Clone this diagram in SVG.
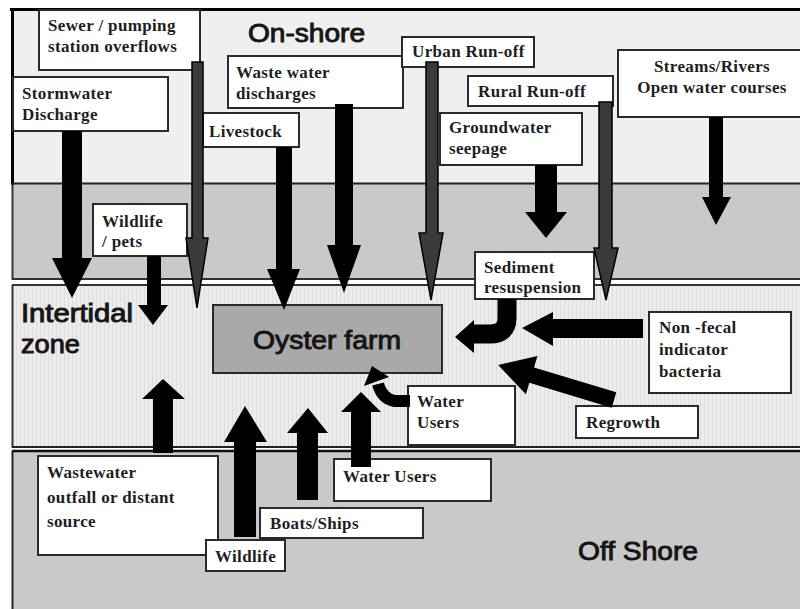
<svg xmlns="http://www.w3.org/2000/svg" width="800" height="609" viewBox="0 0 800 609">
<defs>
<pattern id="stripes" width="4" height="10" patternUnits="userSpaceOnUse">
<rect width="4" height="10" fill="#ececec"/>
<rect x="0" width="1" height="10" fill="#dedede"/>
</pattern>
<style>
.box{fill:#fff;stroke:#2a2a2a;stroke-width:2}
.lbl{font-family:"Liberation Serif","Times New Roman",serif;font-weight:bold;font-size:17px;fill:#1e1e1e;letter-spacing:0.35px}
.zone{font-family:"Liberation Sans",Arial,sans-serif;font-size:25px;fill:#151515;stroke:#151515;stroke-width:0.9}
.blk{fill:#000}
.gry{fill:#3a3a3a;stroke:#000;stroke-width:1.5;stroke-linejoin:miter}
.crv{fill:none;stroke:#000}
</style>
</defs>

<!-- background bands -->
<rect width="800" height="609" fill="#fff"/>
<g id="bands">
<rect x="12" y="9" width="788" height="175" fill="#efefef"/>
<rect x="12" y="184" width="788" height="95" fill="#c9c9c9"/>
<rect x="12" y="285" width="788" height="162" fill="url(#stripes)"/>
<rect x="12" y="451" width="788" height="158" fill="#c9c9c9"/>
<line x1="10" y1="9.5" x2="800" y2="9.5" stroke="#000" stroke-width="3"/>
<line x1="12.5" y1="8" x2="12.5" y2="185" stroke="#000" stroke-width="3"/>
<line x1="12" y1="183.5" x2="800" y2="183.5" stroke="#222" stroke-width="2"/>
<line x1="12.5" y1="184" x2="12.5" y2="280" stroke="#333" stroke-width="2"/>
<line x1="12" y1="279" x2="800" y2="279" stroke="#333" stroke-width="2"/>
<line x1="12" y1="285" x2="800" y2="285" stroke="#333" stroke-width="2"/>
<line x1="12.5" y1="285" x2="12.5" y2="448" stroke="#333" stroke-width="2"/>
<line x1="12" y1="447" x2="800" y2="447" stroke="#222" stroke-width="2"/>
<line x1="12" y1="451" x2="800" y2="451" stroke="#111" stroke-width="2.5"/>
<line x1="12.5" y1="451" x2="12.5" y2="609" stroke="#222" stroke-width="2"/>
</g>

<text class="zone" x="248" y="42" font-size="27" textLength="117" lengthAdjust="spacingAndGlyphs">On-shore</text>
<text class="zone" x="21" y="322" textLength="112" lengthAdjust="spacingAndGlyphs">Intertidal</text>
<text class="zone" x="21" y="353" textLength="59" lengthAdjust="spacingAndGlyphs">zone</text>
<text class="zone" x="578" y="560" textLength="120" lengthAdjust="spacingAndGlyphs">Off Shore</text>

<!-- nodes -->
<g id="oyster-farm">
<rect x="213" y="305" width="229" height="68" fill="#a9a9a9" stroke="#2a2a2a" stroke-width="2"/>
<text class="zone" x="253" y="349" textLength="148" lengthAdjust="spacingAndGlyphs">Oyster farm</text>
</g>
<g id="sewer">
<rect class="box" x="39" y="10" width="161" height="60"/>
<text class="lbl" x="48" y="31">Sewer / pumping</text>
<text class="lbl" x="48" y="52">station overflows</text>
</g>
<g id="stormwater">
<rect class="box" x="13" y="77" width="155" height="54"/>
<text class="lbl" x="22" y="99">Stormwater</text>
<text class="lbl" x="22" y="120">Discharge</text>
</g>
<g id="waste-water">
<rect class="box" x="228" y="56" width="175" height="52"/>
<text class="lbl" x="236" y="78">Waste water</text>
<text class="lbl" x="236" y="99">discharges</text>
</g>
<g id="livestock">
<rect class="box" x="203" y="113" width="96" height="34"/>
<text class="lbl" x="209" y="137">Livestock</text>
</g>
<g id="urban-runoff">
<rect class="box" x="402" y="37" width="132" height="30"/>
<text class="lbl" x="412" y="57">Urban Run-off</text>
</g>
<g id="rural-runoff">
<rect class="box" x="468" y="76" width="145" height="30"/>
<text class="lbl" x="478" y="97">Rural Run-off</text>
</g>
<g id="groundwater">
<rect class="box" x="440" y="113" width="142" height="52"/>
<text class="lbl" x="449" y="133">Groundwater</text>
<text class="lbl" x="449" y="154">seepage</text>
</g>
<g id="streams">
<rect class="box" x="618" y="50" width="184" height="67"/>
<text class="lbl" x="712" y="72" text-anchor="middle">Streams/Rivers</text>
<text class="lbl" x="712" y="93" text-anchor="middle">Open water courses</text>
</g>
<g id="wildlife-pets">
<rect class="box" x="93" y="204" width="94" height="52"/>
<text class="lbl" x="102" y="227">Wildlife</text>
<text class="lbl" x="102" y="247">/ pets</text>
</g>
<g id="sediment">
<rect class="box" x="475" y="252" width="119" height="47"/>
<text class="lbl" x="484" y="273">Sediment</text>
<text class="lbl" x="484" y="293">resuspension</text>
</g>
<g id="non-fecal">
<rect class="box" x="649" y="312" width="142" height="81"/>
<text class="lbl" x="659" y="333">Non -fecal</text>
<text class="lbl" x="659" y="355">indicator</text>
<text class="lbl" x="659" y="377">bacteria</text>
</g>
<g id="water-users-upper">
<rect class="box" x="408" y="386" width="107" height="59"/>
<text class="lbl" x="417" y="407">Water</text>
<text class="lbl" x="417" y="428">Users</text>
</g>
<g id="regrowth">
<rect class="box" x="576" y="406" width="122" height="32"/>
<text class="lbl" x="586" y="428">Regrowth</text>
</g>
<g id="wastewater-outfall">
<rect class="box" x="38" y="456" width="180" height="99"/>
<text class="lbl" x="47" y="478">Wastewater</text>
<text class="lbl" x="47" y="503">outfall or distant</text>
<text class="lbl" x="47" y="527">source</text>
</g>
<g id="water-users-lower">
<rect class="box" x="334" y="459" width="157" height="42"/>
<text class="lbl" x="343" y="482">Water Users</text>
</g>
<g id="boats">
<rect class="box" x="260" y="508" width="163" height="30"/>
<text class="lbl" x="270" y="529">Boats/Ships</text>
</g>
<g id="wildlife">
<rect class="box" x="206" y="540" width="79" height="31"/>
<text class="lbl" x="215" y="562">Wildlife</text>
</g>

<!-- connectors -->
<g id="connectors">
<polygon class="blk" points="62,131 82,131 82,258 92,258 72,298 52,258 62,258"/>
<polygon class="gry" points="192,62 203,62 203,238 208,238 197,308 186,238 192,238"/>
<polygon class="blk" points="335,104 353,104 353,245 361,245 344,293 327,245 335,245"/>
<polygon class="blk" points="276,147 292,147 292,269 300,269 284,310 267,269 276,269"/>
<polygon class="gry" points="426,62 438,62 438,233 443,233 431,300 419,233 426,233"/>
<polygon class="blk" points="535,165 557,165 557,212 567,212 546,238 525,212 535,212"/>
<polygon class="gry" points="599,102 612,102 612,248 618,248 606,300 594,248 599,248"/>
<polygon class="blk" points="709,117 723,117 723,197 731,197 716,225 702,197 709,197"/>
<polygon class="blk" points="147,256 161,256 161,305 168,305 153,325 138,305 147,305"/>

<polygon class="blk" points="153,453 173,453 173,399 185,399 163,379 142,399 153,399"/>
<polygon class="blk" points="234,537 256,537 256,442 267,442 245,406 224,442 234,442"/>
<polygon class="blk" points="297,500 318,500 318,433 328,433 308,408 287,433 297,433"/>
<polygon class="blk" points="351,467 371,467 371,412 381,412 361,392 341,412 351,412"/>

<polygon class="blk" points="643,319 643,338 553,338 553,346 522,328 553,312 553,319"/>
<path class="crv" stroke-width="19" d="M507,299 L507,318 Q507,334 490,334 L472,334"/>
<polygon class="blk" points="474,320 474,353 455,337"/>
<path class="crv" stroke-width="12" d="M410,401 L395,401 Q382,399 378,384"/>
<polygon class="blk" points="364,386 389,377 372,366"/>
<polygon class="blk" transform="translate(614,400) rotate(196.8)" points="0,-8 86,-8 86,-20 121,0 86,20 86,8 0,8"/>
</g>
</svg>
